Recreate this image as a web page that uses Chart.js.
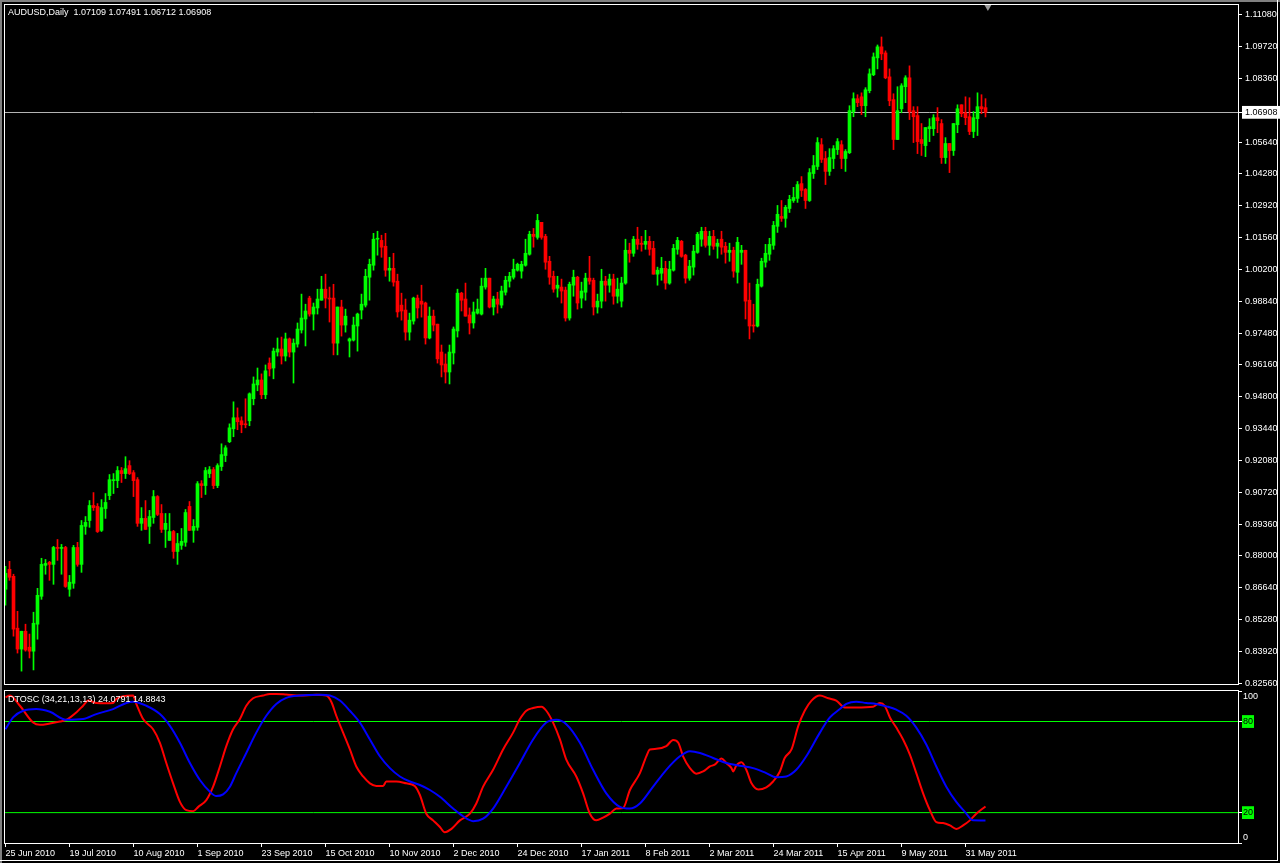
<!DOCTYPE html>
<html>
<head>
<meta charset="utf-8">
<script src="https://cdn.jsdelivr.net/npm/chart.js@4.4.0/dist/chart.umd.min.js"></script>
<style>
  html, body { margin: 0; padding: 0; background: #000; }
  #wrap { position: relative; width: 1280px; height: 863px; background: #000; overflow: hidden; }
  #mainCanvas { position: absolute; left: 0; top: 0; }
  #oscCanvas { position: absolute; left: 0; top: 688px; }
  .edge { position: absolute; }
</style>
</head>
<body>
<div id="wrap">
  <canvas id="mainCanvas" width="1280" height="688"></canvas>
  <canvas id="oscCanvas" width="1280" height="175"></canvas>
  <div class="edge" style="left:0;top:0;width:2px;height:863px;background:#808080"></div>
  <div class="edge" style="left:0;top:0;width:1280px;height:2px;background:#808080"></div>
  <div class="edge" style="left:1277px;top:0;width:1px;height:861px;background:#ffffff"></div>
  <div class="edge" style="left:0;top:860px;width:1278px;height:1px;background:#ffffff"></div>
</div>
<script>
// AUDUSD daily candles, 25 Jun 2010 .. early Jun 2011 (bar index = position)
const opens = [
  0.8658, 0.8743, 0.8713, 0.8492, 0.8403, 0.8479, 0.8411, 0.8394, 0.8509, 0.8628,
  0.8760, 0.8773, 0.8764, 0.8836, 0.8832, 0.8836, 0.8658, 0.8683, 0.8836, 0.8764,
  0.8926, 0.8951, 0.9015, 0.9011, 0.8909, 0.9002, 0.9057, 0.9121, 0.9121, 0.9164,
  0.9151, 0.9185, 0.9155, 0.9125, 0.8939, 0.8960, 0.8926, 0.8964, 0.9053, 0.8981,
  0.8913, 0.8866, 0.8904, 0.8819, 0.8845, 0.8858, 0.9011, 0.8909, 0.8922, 0.9108,
  0.9100, 0.9151, 0.9168, 0.9100, 0.9181, 0.9228, 0.9287, 0.9342, 0.9389, 0.9376,
  0.9363, 0.9376, 0.9470, 0.9529, 0.9550, 0.9487, 0.9622, 0.9601, 0.9669, 0.9682,
  0.9652, 0.9725, 0.9669, 0.9703, 0.9763, 0.9810, 0.9899, 0.9831, 0.9857, 0.9890,
  0.9937, 0.9899, 0.9899, 0.9707, 0.9861, 0.9784, 0.9716, 0.9720, 0.9780, 0.9848,
  0.9869, 0.9988, 1.0039, 1.0150, 1.0145, 1.0120, 1.0018, 1.0026, 0.9971, 0.9869,
  0.9848, 0.9754, 0.9801, 0.9899, 0.9886, 0.9878, 0.9729, 0.9822, 0.9788, 0.9669,
  0.9618, 0.9584, 0.9665, 0.9759, 0.9920, 0.9895, 0.9827, 0.9793, 0.9835, 0.9831,
  0.9946, 0.9984, 0.9861, 0.9895, 0.9869, 0.9924, 0.9971, 0.9988, 1.0018, 1.0014,
  1.0039, 1.0086, 1.0171, 1.0158, 1.0222, 1.0162, 1.0056, 0.9992, 0.9941, 0.9946,
  0.9933, 0.9814, 0.9954, 0.9988, 0.9899, 0.9924, 0.9984, 0.9975, 0.9861, 0.9886,
  0.9971, 0.9954, 0.9980, 0.9907, 0.9886, 0.9963, 1.0103, 1.0090, 1.0150, 1.0133,
  1.0128, 1.0141, 1.0111, 1.0001, 1.0005, 1.0026, 0.9963, 1.0018, 1.0107, 1.0141,
  1.0082, 0.9984, 1.0031, 1.0094, 1.0150, 1.0184, 1.0124, 1.0162, 1.0120, 1.0150,
  1.0120, 1.0094, 1.0103, 1.0009, 1.0094, 1.0103, 0.9890, 0.9784, 0.9780, 0.9950,
  1.0052, 1.0086, 1.0124, 1.0205, 1.0247, 1.0239, 1.0281, 1.0315, 1.0324, 1.0387,
  1.0362, 1.0315, 1.0430, 1.0460, 1.0553, 1.0494, 1.0439, 1.0494, 1.0532, 1.0553,
  1.0494, 1.0519, 1.0694, 1.0749, 1.0757, 1.0719, 1.0783, 1.0851, 1.0923, 1.0970,
  1.0944, 1.0842, 1.0745, 1.0575, 1.0706, 1.0800, 1.0838, 1.0698, 1.0677, 1.0575,
  1.0549, 1.0621, 1.0621, 1.0668, 1.0643, 1.0498, 1.0558, 1.0528, 1.0638, 1.0723,
  1.0689, 1.0672, 1.0609, 1.0664, 1.0715, 1.07109
];
const highs = [
  0.8756, 0.8777, 0.8722, 0.8564, 0.8479, 0.8509, 0.8467, 0.8560, 0.8662, 0.8790,
  0.8785, 0.8777, 0.8841, 0.8870, 0.8849, 0.8841, 0.8717, 0.8845, 0.8858, 0.8951,
  0.8968, 0.9036, 0.9070, 0.9023, 0.9040, 0.9066, 0.9147, 0.9151, 0.9181, 0.9177,
  0.9223, 0.9206, 0.9164, 0.9134, 0.9006, 0.9036, 0.8994, 0.9079, 0.9057, 0.9019,
  0.8981, 0.8981, 0.8909, 0.8896, 0.8917, 0.8998, 0.9032, 0.8955, 0.9117, 0.9121,
  0.9177, 0.9181, 0.9177, 0.9193, 0.9278, 0.9270, 0.9363, 0.9457, 0.9431, 0.9393,
  0.9470, 0.9495, 0.9563, 0.9601, 0.9576, 0.9614, 0.9644, 0.9686, 0.9729, 0.9733,
  0.9750, 0.9729, 0.9725, 0.9793, 0.9916, 0.9873, 0.9907, 0.9878, 0.9937, 0.9992,
  1.0001, 0.9946, 0.9958, 0.9861, 0.9890, 0.9852, 0.9729, 0.9818, 0.9835, 0.9916,
  1.0022, 1.0065, 1.0175, 1.0184, 1.0167, 1.0175, 1.0073, 1.0090, 1.0001, 0.9920,
  0.9895, 0.9835, 0.9903, 0.9912, 0.9954, 0.9882, 0.9861, 0.9848, 0.9788, 0.9699,
  0.9661, 0.9699, 0.9776, 0.9937, 0.9924, 0.9963, 0.9857, 0.9882, 0.9895, 0.9984,
  1.0026, 0.9984, 0.9907, 0.9924, 0.9950, 0.9992, 1.0009, 1.0065, 1.0048, 1.0056,
  1.0150, 1.0184, 1.0196, 1.0256, 1.0222, 1.0171, 1.0077, 1.0014, 0.9992, 0.9980,
  0.9946, 0.9967, 1.0018, 0.9992, 0.9967, 1.0005, 1.0077, 0.9984, 0.9916, 1.0022,
  0.9992, 1.0001, 1.0001, 0.9984, 0.9988, 1.0150, 1.0133, 1.0162, 1.0201, 1.0162,
  1.0188, 1.0162, 1.0141, 1.0031, 1.0073, 1.0056, 1.0056, 1.0128, 1.0158, 1.0145,
  1.0086, 1.0060, 1.0124, 1.0179, 1.0201, 1.0201, 1.0184, 1.0188, 1.0150, 1.0184,
  1.0137, 1.0133, 1.0116, 1.0158, 1.0124, 1.0103, 0.9963, 0.9873, 0.9980, 1.0069,
  1.0128, 1.0154, 1.0226, 1.0294, 1.0315, 1.0294, 1.0337, 1.0371, 1.0396, 1.0417,
  1.0366, 1.0451, 1.0507, 1.0583, 1.0579, 1.0524, 1.0536, 1.0549, 1.0579, 1.0570,
  1.0532, 1.0719, 1.0774, 1.0766, 1.0774, 1.0796, 1.0876, 1.0944, 1.0978, 1.1012,
  1.0953, 1.0876, 1.0770, 1.0800, 1.0813, 1.0847, 1.0889, 1.0715, 1.0715, 1.0643,
  1.0626, 1.0664, 1.0681, 1.0711, 1.0660, 1.0583, 1.0558, 1.0643, 1.0723, 1.0723,
  1.0757, 1.0753, 1.0694, 1.0774, 1.0766, 1.07491
];
const lows = [
  0.8590, 0.8696, 0.8458, 0.8386, 0.8309, 0.8394, 0.8365, 0.8314, 0.8445, 0.8615,
  0.8722, 0.8696, 0.8679, 0.8781, 0.8722, 0.8666, 0.8628, 0.8662, 0.8756, 0.8730,
  0.8892, 0.8922, 0.8994, 0.8900, 0.8904, 0.8960, 0.9040, 0.9066, 0.9091, 0.9113,
  0.9130, 0.9147, 0.9053, 0.8926, 0.8909, 0.8913, 0.8853, 0.8939, 0.8972, 0.8900,
  0.8836, 0.8866, 0.8790, 0.8764, 0.8828, 0.8841, 0.8909, 0.8858, 0.8909, 0.9049,
  0.9062, 0.9134, 0.9087, 0.9091, 0.9164, 0.9202, 0.9283, 0.9308, 0.9338, 0.9325,
  0.9346, 0.9355, 0.9444, 0.9504, 0.9470, 0.9470, 0.9567, 0.9555, 0.9652, 0.9618,
  0.9631, 0.9648, 0.9537, 0.9690, 0.9750, 0.9695, 0.9822, 0.9763, 0.9831, 0.9890,
  0.9857, 0.9797, 0.9657, 0.9657, 0.9737, 0.9754, 0.9648, 0.9716, 0.9673, 0.9810,
  0.9861, 0.9890, 1.0018, 1.0082, 1.0073, 0.9992, 0.9971, 0.9950, 0.9818, 0.9805,
  0.9720, 0.9720, 0.9788, 0.9814, 0.9818, 0.9703, 0.9725, 0.9759, 0.9622, 0.9563,
  0.9537, 0.9533, 0.9618, 0.9733, 0.9844, 0.9822, 0.9746, 0.9771, 0.9831, 0.9827,
  0.9937, 0.9857, 0.9827, 0.9835, 0.9857, 0.9912, 0.9946, 0.9980, 1.0014, 0.9984,
  1.0035, 1.0082, 1.0116, 1.0150, 1.0150, 1.0022, 0.9958, 0.9924, 0.9903, 0.9878,
  0.9801, 0.9805, 0.9907, 0.9852, 0.9857, 0.9890, 0.9958, 0.9827, 0.9835, 0.9857,
  0.9886, 0.9924, 0.9873, 0.9878, 0.9861, 0.9958, 1.0052, 1.0077, 1.0107, 1.0099,
  1.0107, 1.0082, 1.0001, 0.9954, 0.9975, 0.9937, 0.9958, 1.0014, 1.0086, 1.0073,
  0.9963, 0.9975, 0.9997, 1.0090, 1.0120, 1.0116, 1.0082, 1.0107, 1.0069, 1.0086,
  1.0048, 1.0056, 0.9988, 0.9963, 1.0043, 0.9810, 0.9725, 0.9754, 0.9776, 0.9946,
  1.0031, 1.0060, 1.0107, 1.0179, 1.0226, 1.0201, 1.0264, 1.0307, 1.0307, 1.0332,
  1.0281, 1.0311, 1.0409, 1.0447, 1.0477, 1.0383, 1.0422, 1.0451, 1.0511, 1.0451,
  1.0439, 1.0515, 1.0672, 1.0715, 1.0681, 1.0672, 1.0774, 1.0847, 1.0876, 1.0915,
  1.0834, 1.0719, 1.0532, 1.0575, 1.0689, 1.0732, 1.0660, 1.0562, 1.0515, 1.0507,
  1.0502, 1.0566, 1.0592, 1.0604, 1.0473, 1.0473, 1.0434, 1.0507, 1.0604, 1.0672,
  1.0638, 1.0596, 1.0583, 1.0592, 1.0685, 1.06712
];
const closes = [
  0.8726, 0.8709, 0.8488, 0.8403, 0.8479, 0.8399, 0.8394, 0.8513, 0.8632, 0.8764,
  0.8768, 0.8764, 0.8836, 0.8832, 0.8836, 0.8670, 0.8688, 0.8836, 0.8764, 0.8930,
  0.8943, 0.9015, 0.9006, 0.8904, 0.9006, 0.9028, 0.9125, 0.9125, 0.9164, 0.9151,
  0.9172, 0.9151, 0.9121, 0.8939, 0.8960, 0.8913, 0.8968, 0.9053, 0.8977, 0.8913,
  0.8939, 0.8904, 0.8819, 0.8853, 0.8862, 0.8985, 0.8909, 0.8926, 0.9108, 0.9100,
  0.9164, 0.9168, 0.9100, 0.9185, 0.9232, 0.9261, 0.9346, 0.9389, 0.9372, 0.9359,
  0.9359, 0.9491, 0.9533, 0.9550, 0.9487, 0.9589, 0.9597, 0.9673, 0.9682, 0.9652,
  0.9725, 0.9669, 0.9707, 0.9767, 0.9814, 0.9844, 0.9831, 0.9861, 0.9895, 0.9937,
  0.9899, 0.9895, 0.9707, 0.9861, 0.9784, 0.9822, 0.9725, 0.9784, 0.9831, 0.9873,
  0.9992, 1.0043, 1.0150, 1.0154, 1.0116, 1.0018, 1.0026, 0.9967, 0.9840, 0.9844,
  0.9754, 0.9805, 0.9899, 0.9857, 0.9873, 0.9729, 0.9822, 0.9784, 0.9640, 0.9614,
  0.9584, 0.9669, 0.9767, 0.9920, 0.9890, 0.9822, 0.9793, 0.9840, 0.9852, 0.9950,
  0.9984, 0.9861, 0.9895, 0.9873, 0.9929, 0.9975, 0.9992, 1.0022, 1.0043, 1.0043,
  1.0090, 1.0171, 1.0162, 1.0230, 1.0158, 1.0052, 0.9988, 0.9937, 0.9954, 0.9929,
  0.9814, 0.9958, 0.9988, 0.9878, 0.9929, 0.9984, 0.9971, 0.9861, 0.9886, 0.9971,
  0.9954, 0.9980, 0.9907, 0.9937, 0.9963, 1.0103, 1.0090, 1.0150, 1.0128, 1.0128,
  1.0141, 1.0107, 1.0001, 1.0018, 1.0026, 0.9963, 1.0022, 1.0111, 1.0145, 1.0077,
  0.9984, 1.0035, 1.0099, 1.0171, 1.0184, 1.0124, 1.0162, 1.0120, 1.0133, 1.0116,
  1.0094, 1.0103, 1.0014, 1.0137, 1.0103, 0.9886, 0.9780, 0.9780, 0.9958, 1.0056,
  1.0090, 1.0128, 1.0209, 1.0256, 1.0239, 1.0286, 1.0320, 1.0328, 1.0383, 1.0358,
  1.0315, 1.0434, 1.0464, 1.0562, 1.0490, 1.0439, 1.0498, 1.0536, 1.0566, 1.0494,
  1.0524, 1.0698, 1.0749, 1.0732, 1.0719, 1.0787, 1.0855, 1.0927, 1.0970, 1.0940,
  1.0838, 1.0740, 1.0575, 1.0698, 1.0804, 1.0838, 1.0694, 1.0672, 1.0566, 1.0558,
  1.0626, 1.0630, 1.0668, 1.0655, 1.0498, 1.0558, 1.0528, 1.0643, 1.0706, 1.0685,
  1.0668, 1.0609, 1.0668, 1.0715, 1.0706, 1.06908
];

// DTOSC(34,21,13,13): [bar index, value]
const dtoscFast = [
  [0,96.0],[1.1,97.1],[3.6,90.4],[6.9,79.3],[8.6,77.8],[11.1,78.7],[13.6,80.0],[15.2,81.1],
  [17.7,86.0],[19.4,90.4],[20.7,93.8],[22.7,92.2],[25.2,92.0],[26.9,92.2],[27.7,94.9],[29.4,96.7],
  [31.9,97.1],[32.7,91.6],[34.4,81.6],[36.9,74.9],[38.6,66.0],[40.2,52.7],[41.9,39.3],[43.6,27.1],
  [45.2,21.6],[46.9,20.9],[48.2,23.8],[50.2,28.2],[51.9,37.1],[53.6,50.4],[55.2,63.8],[56.9,74.9],
  [58.6,81.6],[60.2,90.4],[61.9,95.3],[64.4,97.1],[66.1,98.2],[67.7,98.2],[70.2,97.8],[73.6,97.1],
  [77.7,97.6],[80.2,97.1],[81.5,92.7],[82.7,83.8],[84.4,72.7],[86.1,61.6],[87.7,50.4],[89.4,43.8],
  [91.1,39.3],[92.7,37.6],[94.4,37.6],[95.2,40.5],[97.7,40.5],[100.2,39.3],[102.3,37.6],[103.6,31.6],
  [105.2,19.3],[106.9,14.9],[108.6,10.5],[109.8,7.1],[111.5,9.3],[113.6,14.9],[116.1,19.3],[117.7,26.0],
  [119.4,37.1],[121.9,48.2],[124.4,61.6],[126.9,72.7],[128.6,81.6],[130.2,87.1],[131.9,88.9],[134.0,89.8],
  [135.2,87.1],[136.9,79.3],[138.6,68.2],[140.2,54.9],[142.7,43.8],[144.4,32.7],[146.1,19.3],[147.7,14.9],
  [149.4,16.7],[151.1,19.3],[152.7,22.7],[154.4,23.1],[156.1,34.9],[158.6,46.0],[160.2,57.1],[161.1,61.6],
  [162.7,62.0],[165.2,63.8],[166.9,67.8],[168.2,66.0],[169.4,57.1],[171.1,49.3],[172.7,45.6],[174.4,47.1],
  [176.1,50.4],[177.3,51.6],[179.0,55.6],[180.2,52.7],[181.5,49.3],[181.9,47.1],[182.7,50.9],[184.0,53.1],
  [185.2,48.2],[186.5,39.3],[188.2,35.3],[190.2,36.7],[191.9,40.5],[193.6,47.1],[194.8,56.0],[196.5,61.6],
  [198.2,77.1],[199.8,87.1],[201.5,93.8],[203.6,97.1],[205.7,95.3],[207.7,93.8],[209.8,89.3],[212.7,89.3],
  [216.9,89.8],[218.6,92.2],[219.8,90.4],[221.1,82.7],[222.7,76.0],[224.4,68.2],[226.1,58.2],[227.7,46.0],
  [229.4,32.7],[231.1,21.6],[232.7,13.8],[234.4,13.1],[236.1,11.6],[237.7,9.3],[239.4,11.6],[241.1,14.9],
  [242.7,19.3],[245,24.08]
];
const dtoscSlow = [
  [0,74.9],[1.9,82.7],[4.4,87.1],[7.7,88.2],[11.1,86.4],[15.2,81.1],[19.4,81.6],[22.7,84.9],
  [26.9,88.2],[30.2,92.2],[31.9,93.1],[35.2,90.4],[38.6,84.9],[41.1,77.1],[43.6,66.0],[46.1,52.7],
  [48.6,41.5],[51.1,33.8],[52.7,30.9],[54.4,32.0],[56.1,37.1],[57.7,46.0],[60.2,59.3],[62.7,72.7],
  [65.2,83.8],[67.7,91.6],[70.2,95.6],[73.6,97.1],[78.6,97.6],[81.1,97.1],[83.6,93.8],[86.1,87.1],
  [88.6,79.3],[91.1,68.2],[93.6,57.1],[96.1,49.3],[98.6,43.8],[101.1,40.5],[103.6,38.2],[106.1,34.9],
  [108.6,30.4],[111.9,22.7],[114.4,17.6],[116.9,14.4],[119.4,16.0],[121.9,22.7],[125.2,37.1],[128.6,52.7],
  [131.9,68.2],[135.2,79.3],[137.7,81.1],[140.2,78.2],[143.6,66.0],[146.9,48.2],[150.2,32.7],[153.6,23.8],
  [156.1,22.7],[158.6,26.0],[161.9,37.1],[165.2,48.2],[168.6,57.1],[171.1,60.4],[173.6,59.3],[176.9,56.0],
  [180.2,52.7],[183.6,50.9],[186.9,49.3],[190.2,46.0],[192.7,43.3],[195.2,43.8],[197.7,48.2],[200.2,57.1],
  [203.6,72.7],[206.1,82.7],[208.6,88.2],[210.2,91.6],[212.7,93.1],[215.2,92.2],[217.7,91.6],[220.2,90.0],
  [222.7,87.8],[225.2,83.8],[227.7,76.0],[230.2,64.9],[232.7,50.4],[235.2,37.1],[237.7,27.1],[239.8,20.7],
  [241.9,14.9],[245,14.88]
];

// axis ticks / labels as printed by the terminal
const priceTicks = [1.11080, 1.09720, 1.08360, 1.06908, 1.05640, 1.04280, 1.02920, 1.01560, 1.00200,
  0.98840, 0.97480, 0.96160, 0.94800, 0.93440, 0.92080, 0.90720, 0.89360, 0.88000, 0.86640,
  0.85280, 0.83920, 0.82560];
const lastPrice = 1.06908;
const oscTicks = [100, 80, 20, 0];
const oscLevels = [80, 20];
const dateIdx = [0, 16, 32, 48, 64, 80, 96, 112, 128, 144, 160, 176, 192, 208, 224, 240];
const dateLabels = ['25 Jun 2010', '19 Jul 2010', '10 Aug 2010', '1 Sep 2010', '23 Sep 2010',
  '15 Oct 2010', '10 Nov 2010', '2 Dec 2010', '24 Dec 2010', '17 Jan 2011', '8 Feb 2011',
  '2 Mar 2011', '24 Mar 2011', '15 Apr 2011', '9 May 2011', '31 May 2011'];
const headerText = 'AUDUSD,Daily  1.07109 1.07491 1.06712 1.06908';
const oscText = 'DTOSC (34,21,13,13) 24.0791 14.8843';
const shiftMark = { x: 245.6, y: 1.1140 };

// view range (bars) and price range of the main window
const X_MIN = -0.125, X_MAX = 308.125;
const Y_MIN = 0.82541, Y_MAX = 1.114835;
const OSC_MAX = 100.1;

const BULL = '#00ff00';
const BEAR = '#ff0000';
const LEVEL = '#00ff00';
const FONT = { family: "'Liberation Sans', Arial, sans-serif", size: 9 };

const candleColor = (ctx) => closes[ctx.dataIndex] >= opens[ctx.dataIndex] ? BULL : BEAR;

// white frame around each window + caption text
const framePlugin = {
  id: 'frame',
  afterDraw(chart, args, opts) {
    const { ctx, chartArea: a } = chart;
    ctx.save();
    ctx.strokeStyle = '#ffffff';
    ctx.lineWidth = 1;
    ctx.strokeRect(a.left - 0.5, a.top - 0.5, a.right - a.left + 1, a.bottom - a.top + 1);
    ctx.fillStyle = '#ffffff';
    ctx.font = FONT.size + 'px ' + FONT.family;
    ctx.textBaseline = 'middle';
    ctx.textAlign = 'left';
    ctx.fillText(opts.text, a.left + 3, a.top + opts.dy);
    ctx.restore();
  }
};

const killPadding = (s) => { s.paddingTop = 0; s.paddingBottom = 0; s.paddingLeft = 0; s.paddingRight = 0; };

const mainChart = new Chart(document.getElementById('mainCanvas'), {
  type: 'bar',
  data: {
    datasets: [
      {
        label: 'body',
        data: opens.map((o, i) => ({ x: i, y: [o, closes[i]] })),
        backgroundColor: candleColor,
        barThickness: 3,
        minBarLength: 1,
        grouped: false
      },
      {
        label: 'wick',
        data: lows.map((l, i) => ({ x: i, y: [l, highs[i]] })),
        backgroundColor: candleColor,
        barThickness: 1,
        grouped: false
      },
      {
        type: 'scatter',
        label: 'shift',
        data: [shiftMark],
        pointStyle: 'triangle',
        rotation: 180,
        pointRadius: 4,
        backgroundColor: '#9a9a9a',
        borderWidth: 0
      }
    ]
  },
  options: {
    responsive: false,
    animation: false,
    layout: { padding: { left: 5, top: 5, right: 0, bottom: 2 } },
    plugins: {
      legend: { display: false },
      tooltip: { enabled: false },
      frame: { text: headerText, dy: 8 }
    },
    scales: {
      x: { type: 'linear', min: X_MIN, max: X_MAX, offset: false, display: false, grid: { offset: false } },
      y: {
        type: 'linear',
        position: 'right',
        min: Y_MIN,
        max: Y_MAX,
        beginAtZero: false,
        afterBuildTicks: (s) => { s.ticks = priceTicks.map(v => ({ value: v })); },
        afterFit: (s) => { s.width = 42; killPadding(s); },
        ticks: {
          autoSkip: false,
          padding: 3,
          font: FONT,
          color: (ctx) => ctx.tick && ctx.tick.value === lastPrice ? '#000000' : '#ffffff',
          showLabelBackdrop: (ctx) => ctx.tick && ctx.tick.value === lastPrice,
          backdropColor: '#ffffff',
          backdropPadding: { left: 3, right: 6, top: 1, bottom: 1 },
          callback: (v) => v.toFixed(5)
        },
        grid: {
          color: (ctx) => ctx.tick && ctx.tick.value === lastPrice ? '#b4b4b4' : 'rgba(0,0,0,0)',
          tickColor: '#ffffff',
          tickLength: 4
        },
        border: { display: false }
      }
    }
  },
  plugins: [framePlugin]
});

// horizontal level lines of the oscillator, drawn through the scales
const levelLine = (v) => ({
  label: 'level ' + v,
  data: [{ x: X_MIN, y: v }, { x: X_MAX, y: v }],
  borderColor: LEVEL,
  borderWidth: 1,
  pointRadius: 0,
  order: 5
});

const oscChart = new Chart(document.getElementById('oscCanvas'), {
  type: 'line',
  data: {
    datasets: [
      {
        label: 'signal',
        data: dtoscSlow.map(p => ({ x: p[0], y: p[1] })),
        borderColor: '#0000ff',
        borderWidth: 2,
        pointRadius: 0,
        cubicInterpolationMode: 'monotone',
        order: 0
      },
      {
        label: 'dtosc',
        data: dtoscFast.map(p => ({ x: p[0], y: p[1] })),
        borderColor: '#ff0000',
        borderWidth: 2,
        pointRadius: 0,
        cubicInterpolationMode: 'monotone',
        order: 1
      },
      levelLine(oscLevels[0]),
      levelLine(oscLevels[1])
    ]
  },
  options: {
    responsive: false,
    animation: false,
    layout: { padding: { left: 5, top: 3, right: 0, bottom: 0 } },
    plugins: {
      legend: { display: false },
      tooltip: { enabled: false },
      frame: { text: oscText, dy: 9 }
    },
    scales: {
      x: {
        type: 'linear',
        min: X_MIN,
        max: X_MAX,
        afterBuildTicks: (s) => { s.ticks = dateIdx.map(v => ({ value: v })); },
        afterFit: (s) => { s.height = 20; killPadding(s); },
        ticks: {
          autoSkip: false,
          maxRotation: 0,
          minRotation: 0,
          align: 'start',
          padding: 1,
          font: FONT,
          color: '#ffffff',
          callback: (v) => dateLabels[dateIdx.indexOf(v)]
        },
        grid: { drawOnChartArea: false, color: '#ffffff', tickLength: 4 },
        border: { display: false }
      },
      y: {
        type: 'linear',
        position: 'right',
        min: 0,
        max: OSC_MAX,
        afterBuildTicks: (s) => { s.ticks = oscTicks.map(v => ({ value: v })); },
        afterFit: (s) => { s.width = 42; killPadding(s); },
        ticks: {
          autoSkip: false,
          padding: 1,
          font: FONT,
          color: (ctx) => ctx.tick && oscLevels.includes(ctx.tick.value) ? '#000000' : '#ffffff',
          showLabelBackdrop: (ctx) => ctx.tick && oscLevels.includes(ctx.tick.value),
          backdropColor: LEVEL,
          backdropPadding: 1,
          callback: (v) => v === 100 ? ['', '100'] : (v === 0 ? ['0', ''] : String(v))
        },
        grid: {
          drawOnChartArea: false,
          color: '#ffffff',
          tickLength: 4
        },
        border: { display: false }
      }
    }
  },
  plugins: [framePlugin]
});
</script>
</body>
</html>
